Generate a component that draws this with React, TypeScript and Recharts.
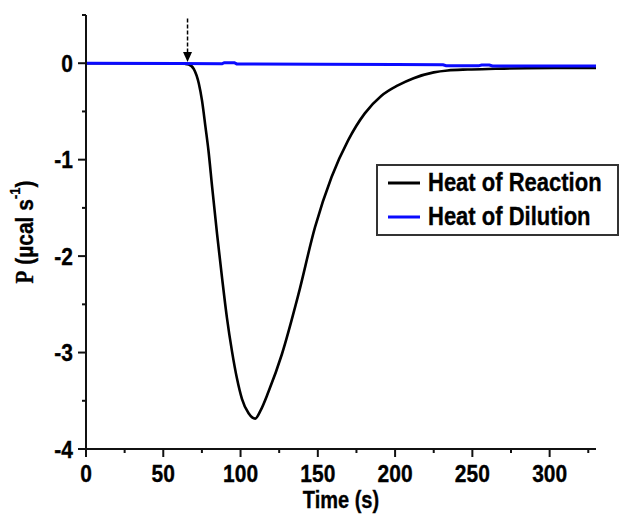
import React from 'react';
import { LineChart, Line, XAxis, YAxis, Legend, ReferenceLine, ReferenceDot } from 'recharts';

// Heat of reaction trace (time in s, power in µcal/s)
const reactionTime = [0, 20, 40, 60, 64, 66.5, 69.8, 73, 75.1, 77.3, 79.2, 81.6, 84.8, 88, 91.2, 94.5, 97.7, 100.9, 105.2, 109.5, 113, 118, 126.7, 137.4, 148.2, 158.9, 169.6, 180.4, 191, 201.8, 212, 225, 234, 247, 265, 285, 305, 330];
const reactionP = [0, 0, 0, -0.003, -0.006, -0.012, -0.06, -0.21, -0.39, -0.66, -0.9, -1.28, -1.77, -2.22, -2.64, -2.99, -3.27, -3.48, -3.63, -3.685, -3.6, -3.41, -3.02, -2.4, -1.7, -1.18, -0.8, -0.52, -0.34, -0.23, -0.155, -0.095, -0.075, -0.065, -0.058, -0.052, -0.05, -0.05];

// Heat of dilution trace
const dilutionTime = [0, 60, 88, 89.5, 96, 97.5, 150, 200, 231, 233, 254, 256, 261, 263, 330];
const dilutionP = [0, -0.004, -0.006, 0.006, 0.006, -0.007, -0.01, -0.013, -0.016, -0.026, -0.027, -0.018, -0.018, -0.028, -0.03];

// Injection marker
const injectionTime = [65.7];
const arrowTop = [0.465];
const arrowBase = [0.1];
const arrowTip = [0.013];

const xTicks = [0, 25, 50, 75, 100, 125, 150, 175, 200, 225, 250, 275, 300, 325];
const yTicks = [0.5, 0, -0.5, -1, -1.5, -2, -2.5, -3, -3.5, -4];

const seriesNames = ['Heat of Reaction', 'Heat of Dilution'];
const seriesColors = ['#000000', '#0b0bff'];

const reactionData = reactionTime.map((t, i) => ({ t, p: reactionP[i] }));
const dilutionData = dilutionTime.map((t, i) => ({ t, p: dilutionP[i] }));

const FONT = '"Liberation Sans", Arial, sans-serif';
const AXIS_COLOR = '#111';
const STRETCH = 1.15;

const XTick = (props: any) => {
  const { x, y, payload } = props;
  const major = payload.value % 50 === 0;
  return (
    <g>
      <line x1={x} x2={x} y1={y} y2={y + (major ? 8 : 4)} stroke={AXIS_COLOR} strokeWidth={2} />
      {major && (
        <g transform={`translate(${x} ${y + 16}) scale(1 ${STRETCH})`}>
          <text x={0} y={0} dy="0.72em" textAnchor="middle" fontFamily={FONT} fontWeight="bold" fontSize={21} fill="#000" stroke="#000" strokeWidth={0.3}>
            {payload.value}
          </text>
        </g>
      )}
    </g>
  );
};

const YTick = (props: any) => {
  const { x, y, payload } = props;
  const major = Number.isInteger(payload.value);
  return (
    <g>
      <line x1={x} x2={x - (major ? 8 : 4)} y1={y} y2={y} stroke={AXIS_COLOR} strokeWidth={2} />
      {major && (
        <g transform={`translate(${x - 13} ${y}) scale(1 ${STRETCH})`}>
          <text x={0} y={0} dy="0.36em" textAnchor="end" fontFamily={FONT} fontWeight="bold" fontSize={21} fill="#000" stroke="#000" strokeWidth={0.3}>
            {payload.value}
          </text>
        </g>
      )}
    </g>
  );
};

const YLabel = (props: any) => {
  const { viewBox } = props;
  const cx = viewBox.x + 24;
  const cy = viewBox.y + viewBox.height / 2;
  return (
    <g transform={`translate(${cx} ${cy}) rotate(-90) scale(1 ${STRETCH})`}>
      <text x={0} y={0} textAnchor="middle" dominantBaseline="central" fontWeight="bold" fontSize={21} fill="#000" stroke="#000" strokeWidth={0.3} fontFamily={FONT}>
        <tspan fontFamily='"Liberation Serif", "Times New Roman", serif'>P</tspan>
        <tspan> (µcal s</tspan>
        <tspan fontSize={13} dy={-8}>-1</tspan>
        <tspan dy={8}>)</tspan>
      </text>
    </g>
  );
};

const XLabel = (props: any) => {
  const { viewBox } = props;
  const cx = viewBox.x + viewBox.width / 2;
  const cy = viewBox.y + 51;
  return (
    <g transform={`translate(${cx} ${cy}) scale(1 ${STRETCH})`}>
      <text x={0} y={0} textAnchor="middle" dominantBaseline="central" fontFamily={FONT} fontWeight="bold" fontSize={20} fill="#000" stroke="#000" strokeWidth={0.3}>
        Time (s)
      </text>
    </g>
  );
};

const ArrowHead = (props: any) => {
  const { cx, cy } = props;
  return <polygon points={`${cx},${cy} ${cx - 4.5},${cy - 10} ${cx + 4.5},${cy - 10}`} fill="#000" />;
};

const LegendBox = (props: any) => {
  const payload = [...(props.payload || [])].sort(
    (a: any, b: any) => seriesNames.indexOf(a.value) - seriesNames.indexOf(b.value)
  );
  return (
    <div style={{ border: '2px solid #333', width: 239, height: 68, boxSizing: 'content-box', padding: 0, background: '#fff' }}>
      {payload.map((entry: any, i: number) => (
        <div key={i} style={{ display: 'flex', alignItems: 'center', height: 34, paddingLeft: 10 }}>
          <svg width={34} height={10} style={{ marginRight: 6 }}>
            <line x1={0} x2={32} y1={5} y2={5} stroke={entry.color} strokeWidth={3} />
          </svg>
          <span
            style={{
              fontFamily: FONT,
              fontWeight: 'bold',
              fontSize: 22,
              color: '#000',
              lineHeight: '34px',
              display: 'inline-block',
              transform: `scaleY(${STRETCH})`,
              WebkitTextStroke: '0.3px #000',
            }}
          >
            {entry.value}
          </span>
        </div>
      ))}
    </div>
  );
};

export default function App() {
  return (
    <div style={{ position: 'absolute', left: 0, top: 0, background: '#fff' }}>
      <LineChart width={620} height={517} margin={{ top: 15, right: 24, left: 0, bottom: 0 }}>
        <XAxis
          dataKey="t"
          type="number"
          domain={[0, 330]}
          ticks={xTicks}
          interval={0}
          allowDataOverflow
          height={68}
          tickSize={0}
          tickMargin={0}
          tickLine={false}
          tick={<XTick />}
          axisLine={{ stroke: AXIS_COLOR, strokeWidth: 2 }}
          label={{ content: <XLabel /> }}
        />
        <YAxis
          type="number"
          domain={[-4, 0.5]}
          ticks={yTicks}
          interval={0}
          allowDataOverflow
          width={86}
          tickSize={0}
          tickMargin={0}
          tickLine={false}
          tick={<YTick />}
          axisLine={{ stroke: AXIS_COLOR, strokeWidth: 2 }}
          label={{ content: <YLabel /> }}
        />
        <Legend
          layout="horizontal"
          verticalAlign="middle"
          align="center"
          content={<LegendBox />}
          wrapperStyle={{ left: 376, top: 164, width: 243, height: 72 }}
        />
        <Line
          data={reactionData}
          dataKey="p"
          name={seriesNames[0]}
          type="monotone"
          stroke={seriesColors[0]}
          strokeWidth={2.6}
          dot={false}
          activeDot={false}
          isAnimationActive={false}
        />
        <Line
          data={dilutionData}
          dataKey="p"
          name={seriesNames[1]}
          type="linear"
          stroke={seriesColors[1]}
          strokeWidth={3}
          dot={false}
          activeDot={false}
          isAnimationActive={false}
        />
        <ReferenceLine
          segment={[{ x: injectionTime[0], y: arrowTop[0] }, { x: injectionTime[0], y: arrowBase[0] }]}
          stroke="#000"
          strokeWidth={1.5}
          strokeDasharray="4 2"
        />
        <ReferenceDot x={injectionTime[0]} y={arrowTip[0]} r={5} shape={<ArrowHead />} />
      </LineChart>
    </div>
  );
}
